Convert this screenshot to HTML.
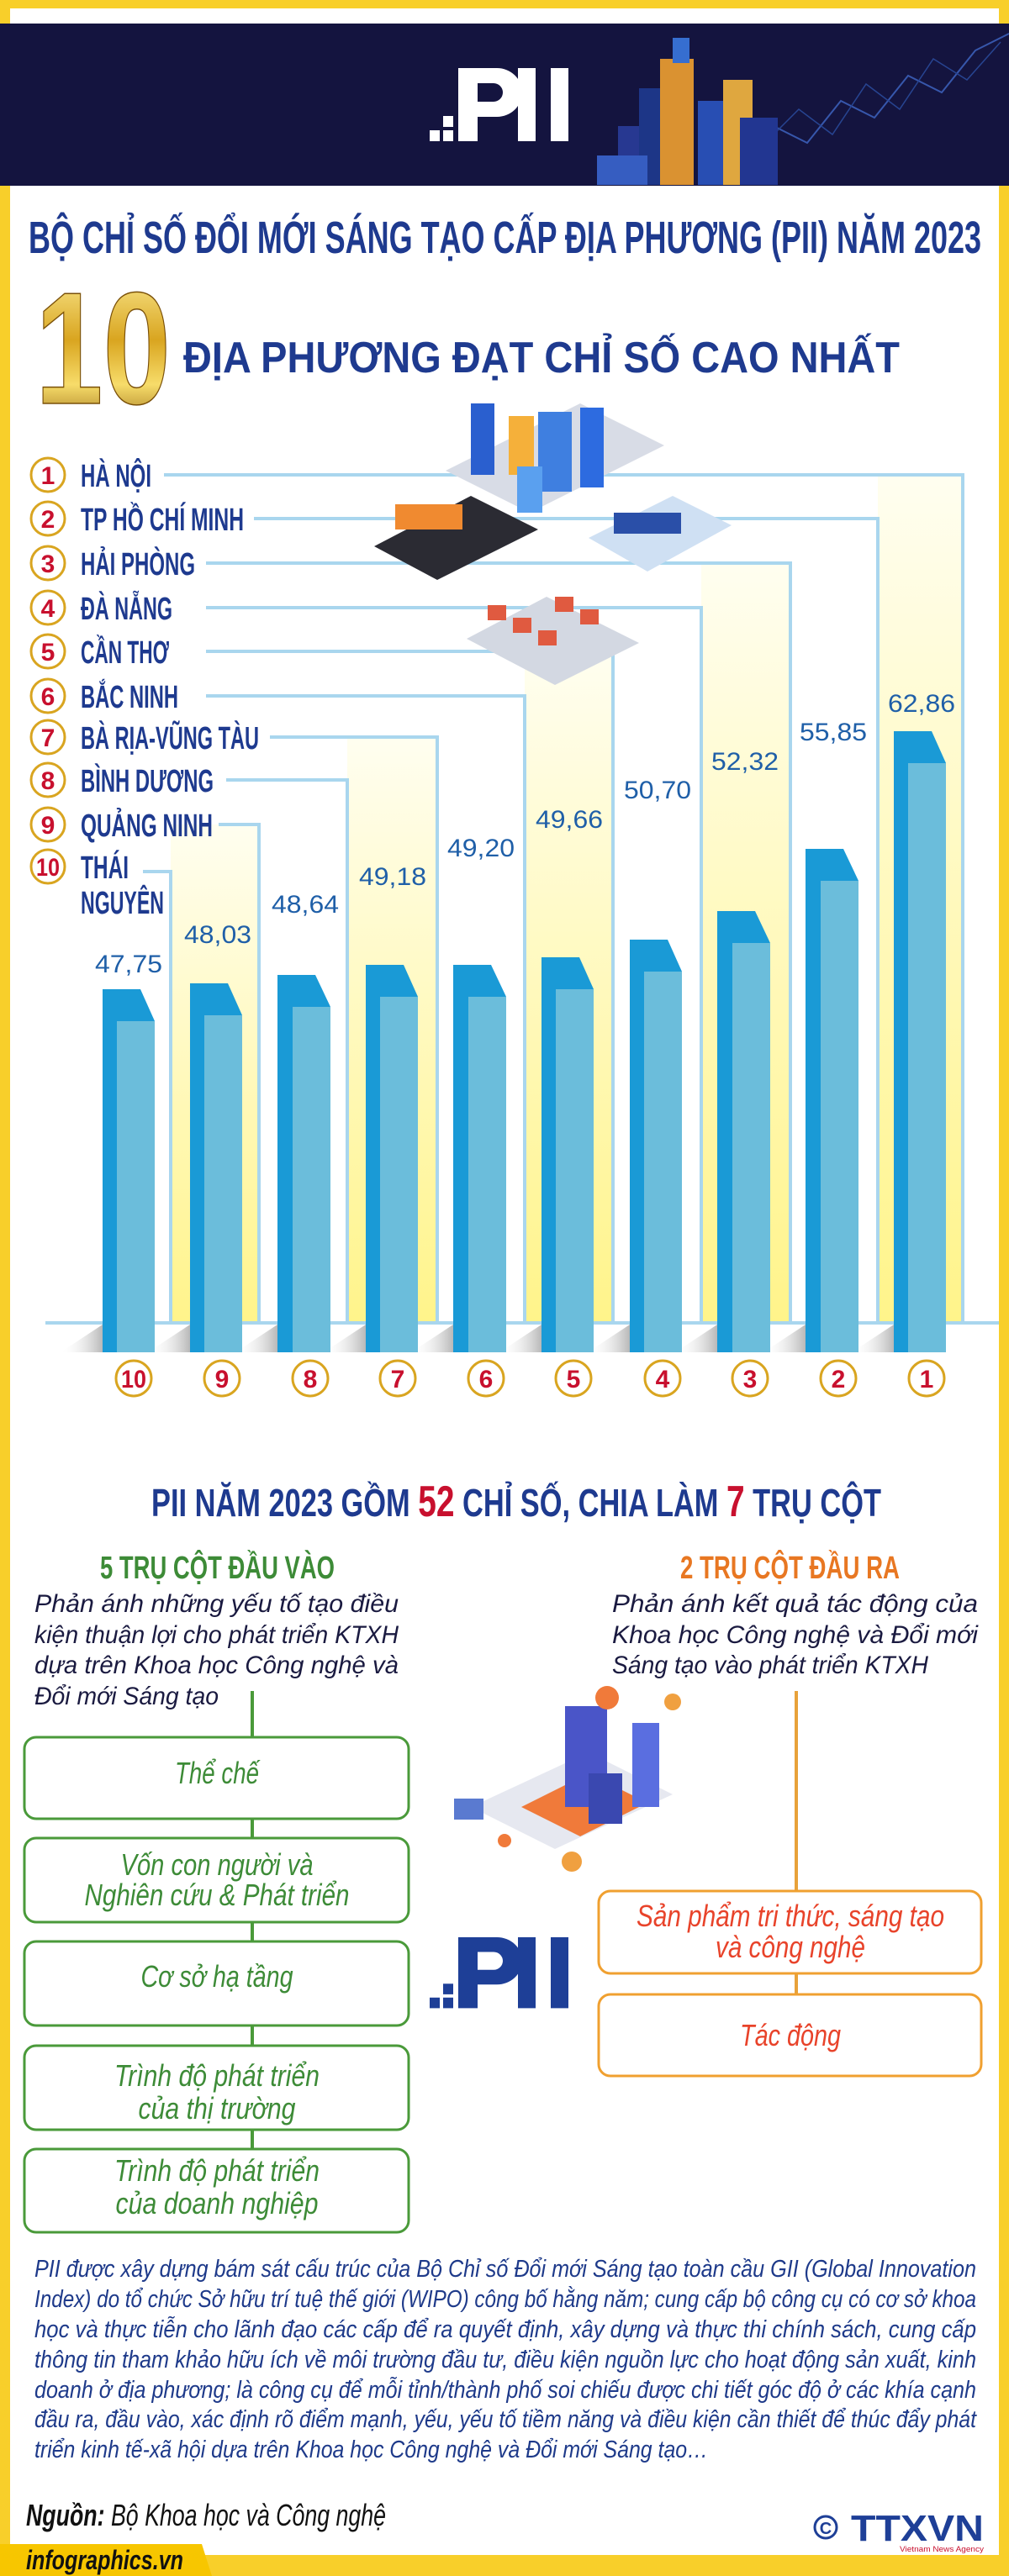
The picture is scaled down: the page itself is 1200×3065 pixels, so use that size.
<!DOCTYPE html>
<html><head><meta charset="utf-8"><style>
html,body{margin:0;padding:0;background:#fff}
svg{display:block}
text{font-family:"Liberation Sans","DejaVu Sans",sans-serif}
</style></head><body>
<svg width="1200" height="3065" viewBox="0 0 1200 3065" xmlns="http://www.w3.org/2000/svg">
<defs>
<linearGradient id="gold" x1="0" y1="0" x2="0" y2="1"><stop offset="0" stop-color="#fff3a0"/><stop offset="0.45" stop-color="#d9a520"/><stop offset="0.7" stop-color="#f7dc6a"/><stop offset="1" stop-color="#8a5a08"/></linearGradient>
<linearGradient id="ys" x1="0" y1="0" x2="0" y2="1"><stop offset="0" stop-color="#fffef0"/><stop offset="1" stop-color="#fff48a"/></linearGradient>
<linearGradient id="sh" x1="0" y1="0" x2="1" y2="0"><stop offset="0" stop-color="#fff" stop-opacity="0"/><stop offset="1" stop-color="#b8b8b8"/></linearGradient>
<g id="pii">
<rect x="0" y="74" width="12" height="13"/><rect x="16" y="57" width="12" height="13"/><rect x="16" y="74" width="12" height="13"/>
<path d="M34 0 H80 A30 29 0 0 1 80 58 H57 V87 H34 Z M57 18 V40 H76 A11 11 0 0 0 76 18 Z" fill-rule="evenodd"/>
<rect x="105" y="0" width="21" height="87"/><rect x="144" y="0" width="21" height="87"/>
</g>
</defs>
<!-- frame -->
<rect x="0" y="0" width="1200" height="3065" fill="#f8cf2a"/>
<rect x="12" y="10" width="1176" height="3030" fill="#fff"/>
<rect x="0" y="28" width="1200" height="193" fill="#14143f"/>
<!-- header illustration -->
<g opacity="0.9">
<polyline points="880,200 920,150 960,170 1000,120 1040,140 1080,90 1120,110 1160,60 1200,40" fill="none" stroke="#3b5fb8" stroke-width="2"/>
<polyline points="900,180 950,130 990,160 1030,100 1070,130 1110,70 1150,95 1190,50" fill="none" stroke="#2a4a9a" stroke-width="1.5"/>
<rect x="735" y="150" width="40" height="70" fill="#2a3c9a"/>
<rect x="760" y="105" width="45" height="115" fill="#1e3a8f"/>
<rect x="785" y="70" width="40" height="150" fill="#f0a030"/>
<rect x="800" y="45" width="20" height="30" fill="#3a78e0"/>
<rect x="830" y="120" width="45" height="100" fill="#2b55c0"/>
<rect x="860" y="95" width="35" height="125" fill="#f5b840"/>
<rect x="880" y="140" width="45" height="80" fill="#243a9a"/>
<rect x="710" y="185" width="60" height="35" fill="#3a66d0"/>
</g>
<g fill="#fff" transform="translate(511,81)"><use href="#pii"/></g>
<!-- titles -->
<text x="34" y="301" font-size="54" font-weight="bold" fill="#1e3a8f" textLength="1133" lengthAdjust="spacingAndGlyphs">BỘ CHỈ SỐ ĐỔI MỚI SÁNG TẠO CẤP ĐỊA PHƯƠNG (PII) NĂM 2023</text>
<text x="42" y="480" font-size="190" font-weight="bold" fill="url(#gold)" stroke="#7a5008" stroke-width="1.5" textLength="161" lengthAdjust="spacingAndGlyphs">10</text>
<text x="218" y="443" font-size="52" font-weight="bold" fill="#1e3a8f" textLength="852" lengthAdjust="spacingAndGlyphs">ĐỊA PHƯƠNG ĐẠT CHỈ SỐ CAO NHẤT</text>
<!-- yellow stripes -->
<rect x="203" y="981" width="105" height="593" fill="url(#ys)"/>
<rect x="413" y="877" width="107" height="697" fill="url(#ys)"/>
<rect x="624" y="775" width="105" height="799" fill="url(#ys)"/>
<rect x="834" y="670" width="106" height="904" fill="url(#ys)"/>
<rect x="1044" y="565" width="101" height="1009" fill="url(#ys)"/>
<!-- leader lines -->
<g fill="none" stroke="#a9d6ee" stroke-width="4">
<polyline points="195,565 1145,565 1145,1574"/>
<polyline points="302,617 1044,617 1044,1574"/>
<polyline points="245,670 940,670 940,1574"/>
<polyline points="245,723 834,723 834,1574"/>
<polyline points="245,775 729,775 729,1574"/>
<polyline points="245,828 624,828 624,1574"/>
<polyline points="321,877 520,877 520,1574"/>
<polyline points="269,928 413,928 413,1574"/>
<polyline points="260,981 308,981 308,1574"/>
<polyline points="170,1037 203,1037 203,1574"/>
<line x1="54" y1="1574" x2="1188" y2="1574"/>
</g>
<!-- city illustration -->
<g>
<polygon points="445,650 560,590 640,630 520,690" fill="#2b2b33"/>
<polygon points="530,560 690,480 790,530 630,610" fill="#d8dce6"/>
<polygon points="700,640 800,590 870,625 770,680" fill="#cfe0f3"/>
<polygon points="555,760 650,710 760,765 660,815" fill="#d3d8e2"/>
<rect x="560" y="480" width="28" height="85" fill="#2a5fcf"/>
<rect x="605" y="495" width="30" height="70" fill="#f5b03a"/>
<rect x="640" y="490" width="40" height="95" fill="#3f7fe0"/>
<rect x="690" y="485" width="28" height="95" fill="#2d6be0"/>
<rect x="615" y="555" width="30" height="55" fill="#5aa0ef"/>
<rect x="470" y="600" width="80" height="30" fill="#f08a30"/>
<rect x="730" y="610" width="80" height="25" fill="#2a4fa8"/>
<g fill="#e05a40"><rect x="580" y="720" width="22" height="18"/><rect x="610" y="735" width="22" height="18"/><rect x="640" y="750" width="22" height="18"/><rect x="660" y="710" width="22" height="18"/><rect x="690" y="725" width="22" height="18"/></g>
</g>
<!-- list -->
<g fill="#fff" stroke="#d9a520" stroke-width="3">
<circle cx="57" cy="565" r="20"/><circle cx="57" cy="617" r="20"/><circle cx="57" cy="670" r="20"/><circle cx="57" cy="723" r="20"/><circle cx="57" cy="775" r="20"/><circle cx="57" cy="828" r="20"/><circle cx="57" cy="877" r="20"/><circle cx="57" cy="928" r="20"/><circle cx="57" cy="981" r="20"/><circle cx="57" cy="1031" r="20"/>
</g>
<g fill="#c8102e" font-size="30" font-weight="bold" text-anchor="middle">
<text x="57" y="576">1</text><text x="57" y="628">2</text><text x="57" y="681">3</text><text x="57" y="734">4</text><text x="57" y="786">5</text><text x="57" y="839">6</text><text x="57" y="888">7</text><text x="57" y="939">8</text><text x="57" y="992">9</text><text x="57" y="1042" textLength="28" lengthAdjust="spacingAndGlyphs">10</text>
</g>
<g fill="#1e3a8f" font-size="38" font-weight="bold">
<text x="96" y="579" textLength="84" lengthAdjust="spacingAndGlyphs">HÀ NỘI</text>
<text x="96" y="631" textLength="194" lengthAdjust="spacingAndGlyphs">TP HỒ CHÍ MINH</text>
<text x="96" y="684" textLength="136" lengthAdjust="spacingAndGlyphs">HẢI PHÒNG</text>
<text x="96" y="737" textLength="109" lengthAdjust="spacingAndGlyphs">ĐÀ NẴNG</text>
<text x="96" y="789" textLength="105" lengthAdjust="spacingAndGlyphs">CẦN THƠ</text>
<text x="96" y="842" textLength="116" lengthAdjust="spacingAndGlyphs">BẮC NINH</text>
<text x="96" y="891" textLength="212" lengthAdjust="spacingAndGlyphs">BÀ RỊA-VŨNG TÀU</text>
<text x="96" y="942" textLength="158" lengthAdjust="spacingAndGlyphs">BÌNH DƯƠNG</text>
<text x="96" y="995" textLength="157" lengthAdjust="spacingAndGlyphs">QUẢNG NINH</text>
<text x="96" y="1045" textLength="57" lengthAdjust="spacingAndGlyphs">THÁI</text>
<text x="96" y="1087" textLength="99" lengthAdjust="spacingAndGlyphs">NGUYÊN</text>
</g>
<!-- values -->
<g fill="#1f5fa8" font-size="30" text-anchor="middle">
<text x="1096" y="847" textLength="80" lengthAdjust="spacingAndGlyphs">62,86</text>
<text x="991" y="881" textLength="80" lengthAdjust="spacingAndGlyphs">55,85</text>
<text x="886" y="916" textLength="80" lengthAdjust="spacingAndGlyphs">52,32</text>
<text x="782" y="950" textLength="80" lengthAdjust="spacingAndGlyphs">50,70</text>
<text x="677" y="985" textLength="80" lengthAdjust="spacingAndGlyphs">49,66</text>
<text x="572" y="1019" textLength="80" lengthAdjust="spacingAndGlyphs">49,20</text>
<text x="467" y="1053" textLength="80" lengthAdjust="spacingAndGlyphs">49,18</text>
<text x="363" y="1086" textLength="80" lengthAdjust="spacingAndGlyphs">48,64</text>
<text x="259" y="1122" textLength="80" lengthAdjust="spacingAndGlyphs">48,03</text>
<text x="153" y="1157" textLength="80" lengthAdjust="spacingAndGlyphs">47,75</text>
</g>
<!-- bars -->
<g id="bars">
<polygon points="1013,1609 1063,1576 1063,1609" fill="url(#sh)"/>
<polygon points="908,1609 958,1576 958,1609" fill="url(#sh)"/>
<polygon points="803,1609 853,1576 853,1609" fill="url(#sh)"/>
<polygon points="699,1609 749,1576 749,1609" fill="url(#sh)"/>
<polygon points="594,1609 644,1576 644,1609" fill="url(#sh)"/>
<polygon points="489,1609 539,1576 539,1609" fill="url(#sh)"/>
<polygon points="385,1609 435,1576 435,1609" fill="url(#sh)"/>
<polygon points="280,1609 330,1576 330,1609" fill="url(#sh)"/>
<polygon points="176,1609 226,1576 226,1609" fill="url(#sh)"/>
<polygon points="72,1609 122,1576 122,1609" fill="url(#sh)"/>
</g>
<g>
<polygon points="1063,870 1108,870 1125,908 1125,1609 1063,1609" fill="#1a9ad6"/><rect x="1080" y="908" width="45" height="701" fill="#6bbddb"/>
<polygon points="958,1010 1003,1010 1021,1048 1021,1609 958,1609" fill="#1a9ad6"/><rect x="976" y="1048" width="45" height="561" fill="#6bbddb"/>
<polygon points="853,1084 898,1084 916,1122 916,1609 853,1609" fill="#1a9ad6"/><rect x="871" y="1122" width="45" height="487" fill="#6bbddb"/>
<polygon points="749,1118 794,1118 811,1156 811,1609 749,1609" fill="#1a9ad6"/><rect x="766" y="1156" width="45" height="453" fill="#6bbddb"/>
<polygon points="644,1139 689,1139 706,1177 706,1609 644,1609" fill="#1a9ad6"/><rect x="661" y="1177" width="45" height="432" fill="#6bbddb"/>
<polygon points="539,1148 584,1148 602,1186 602,1609 539,1609" fill="#1a9ad6"/><rect x="557" y="1186" width="45" height="423" fill="#6bbddb"/>
<polygon points="435,1148 480,1148 497,1186 497,1609 435,1609" fill="#1a9ad6"/><rect x="452" y="1186" width="45" height="423" fill="#6bbddb"/>
<polygon points="330,1160 375,1160 393,1198 393,1609 330,1609" fill="#1a9ad6"/><rect x="348" y="1198" width="45" height="411" fill="#6bbddb"/>
<polygon points="226,1170 271,1170 288,1208 288,1609 226,1609" fill="#1a9ad6"/><rect x="243" y="1208" width="45" height="401" fill="#6bbddb"/>
<polygon points="122,1177 167,1177 184,1215 184,1609 122,1609" fill="#1a9ad6"/><rect x="139" y="1215" width="45" height="394" fill="#6bbddb"/>
</g>
<!-- bottom rank circles -->
<g fill="#fff" stroke="#d9a520" stroke-width="3">
<circle cx="159" cy="1640" r="21"/><circle cx="264" cy="1640" r="21"/><circle cx="369" cy="1640" r="21"/><circle cx="473" cy="1640" r="21"/><circle cx="578" cy="1640" r="21"/><circle cx="682" cy="1640" r="21"/><circle cx="788" cy="1640" r="21"/><circle cx="892" cy="1640" r="21"/><circle cx="997" cy="1640" r="21"/><circle cx="1102" cy="1640" r="21"/>
</g>
<g fill="#c8102e" font-size="30" font-weight="bold" text-anchor="middle">
<text x="159" y="1651" textLength="30" lengthAdjust="spacingAndGlyphs">10</text><text x="264" y="1651">9</text><text x="369" y="1651">8</text><text x="473" y="1651">7</text><text x="578" y="1651">6</text><text x="682" y="1651">5</text><text x="788" y="1651">4</text><text x="892" y="1651">3</text><text x="997" y="1651">2</text><text x="1102" y="1651">1</text>
</g>
<!-- section 2 -->
<text x="180" y="1804" font-size="46" font-weight="bold" fill="#1e3a8f" textLength="868" lengthAdjust="spacingAndGlyphs">PII NĂM 2023 GỒM <tspan fill="#c8102e" font-size="52">52</tspan> CHỈ SỐ, CHIA LÀM <tspan fill="#c8102e" font-size="52">7</tspan> TRỤ CỘT</text>
<text x="119" y="1878" font-size="38" font-weight="bold" fill="#3d8b37" textLength="279" lengthAdjust="spacingAndGlyphs">5 TRỤ CỘT ĐẦU VÀO</text>
<text x="809" y="1878" font-size="38" font-weight="bold" fill="#e87722" textLength="261" lengthAdjust="spacingAndGlyphs">2 TRỤ CỘT ĐẦU RA</text>
<g font-size="30" font-style="italic" fill="#1a1a40">
<text x="41" y="1918" textLength="433" lengthAdjust="spacingAndGlyphs">Phản ánh những yếu tố tạo điều</text>
<text x="41" y="1955" textLength="433" lengthAdjust="spacingAndGlyphs">kiện thuận lợi cho phát triển KTXH</text>
<text x="41" y="1991" textLength="433" lengthAdjust="spacingAndGlyphs">dựa trên Khoa học Công nghệ và</text>
<text x="41" y="2028" textLength="219" lengthAdjust="spacingAndGlyphs">Đổi mới Sáng tạo</text>
<text x="728" y="1918" textLength="435" lengthAdjust="spacingAndGlyphs">Phản ánh kết quả tác động của</text>
<text x="728" y="1955" textLength="435" lengthAdjust="spacingAndGlyphs">Khoa học Công nghệ và Đổi mới</text>
<text x="728" y="1991" textLength="376" lengthAdjust="spacingAndGlyphs">Sáng tạo vào phát triển KTXH</text>
</g>
<line x1="300" y1="2012" x2="300" y2="2557" stroke="#4a9a3a" stroke-width="4"/>
<line x1="947" y1="2012" x2="947" y2="2373" stroke="#e8a23a" stroke-width="4"/>
<g fill="#fff" stroke="#4a9a3a" stroke-width="3">
<rect x="29" y="2067" width="457" height="97" rx="14"/>
<rect x="29" y="2187" width="457" height="100" rx="14"/>
<rect x="29" y="2310" width="457" height="100" rx="14"/>
<rect x="29" y="2434" width="457" height="100" rx="14"/>
<rect x="29" y="2557" width="457" height="99" rx="14"/>
</g>
<g fill="#fff" stroke="#f0a030" stroke-width="3">
<rect x="712" y="2250" width="455" height="98" rx="14"/>
<rect x="712" y="2373" width="455" height="97" rx="14"/>
</g>
<g font-size="36" font-style="italic" fill="#3d8b37" text-anchor="middle">
<text x="258" y="2122" textLength="100" lengthAdjust="spacingAndGlyphs">Thể chế</text>
<text x="258" y="2231" textLength="229" lengthAdjust="spacingAndGlyphs">Vốn con người và</text>
<text x="258" y="2267" textLength="315" lengthAdjust="spacingAndGlyphs">Nghiên cứu &amp; Phát triển</text>
<text x="258" y="2364" textLength="181" lengthAdjust="spacingAndGlyphs">Cơ sở hạ tầng</text>
<text x="258" y="2482" textLength="244" lengthAdjust="spacingAndGlyphs">Trình độ phát triển</text>
<text x="258" y="2521" textLength="187" lengthAdjust="spacingAndGlyphs">của thị trường</text>
<text x="258" y="2595" textLength="244" lengthAdjust="spacingAndGlyphs">Trình độ phát triển</text>
<text x="258" y="2634" textLength="241" lengthAdjust="spacingAndGlyphs">của doanh nghiệp</text>
</g>
<g font-size="36" font-style="italic" fill="#e8432a" text-anchor="middle">
<text x="940" y="2292" textLength="366" lengthAdjust="spacingAndGlyphs">Sản phẩm tri thức, sáng tạo</text>
<text x="940" y="2329" textLength="178" lengthAdjust="spacingAndGlyphs">và công nghệ</text>
<text x="940" y="2434" textLength="120" lengthAdjust="spacingAndGlyphs">Tác động</text>
</g>
<!-- middle illustration -->
<g>
<polygon points="560,2150 700,2085 800,2135 660,2200" fill="#e6e8f0"/>
<polygon points="620,2150 700,2110 770,2145 690,2185" fill="#f07a3a"/>
<rect x="672" y="2030" width="50" height="120" fill="#4a55c8"/>
<rect x="752" y="2050" width="32" height="100" fill="#5a6ee0"/>
<rect x="700" y="2110" width="40" height="60" fill="#3a48b0"/>
<rect x="540" y="2140" width="35" height="25" fill="#5a7ad0"/>
<circle cx="722" cy="2020" r="14" fill="#f07a3a"/>
<circle cx="800" cy="2025" r="10" fill="#f0a040"/>
<circle cx="600" cy="2190" r="8" fill="#f07a3a"/>
<circle cx="680" cy="2215" r="12" fill="#f0a040"/>
</g>
<g fill="#1e3f97" transform="translate(511,2305) scale(1,0.97)"><use href="#pii"/></g>
<!-- body paragraph -->
<g font-size="29" font-style="italic" fill="#1e3a8a">
<text x="41" y="2709" textLength="1120" lengthAdjust="spacingAndGlyphs">PII được xây dựng bám sát cấu trúc của Bộ Chỉ số Đổi mới Sáng tạo toàn cầu GII (Global Innovation</text>
<text x="41" y="2745" textLength="1120" lengthAdjust="spacingAndGlyphs">Index) do tổ chức Sở hữu trí tuệ thế giới (WIPO) công bố hằng năm; cung cấp bộ công cụ có cơ sở khoa</text>
<text x="41" y="2781" textLength="1120" lengthAdjust="spacingAndGlyphs">học và thực tiễn cho lãnh đạo các cấp để ra quyết định, xây dựng và thực thi chính sách, cung cấp</text>
<text x="41" y="2817" textLength="1120" lengthAdjust="spacingAndGlyphs">thông tin tham khảo hữu ích về môi trường đầu tư, điều kiện nguồn lực cho hoạt động sản xuất, kinh</text>
<text x="41" y="2853" textLength="1120" lengthAdjust="spacingAndGlyphs">doanh ở địa phương; là công cụ để mỗi tỉnh/thành phố soi chiếu được chi tiết góc độ ở các khía cạnh</text>
<text x="41" y="2888" textLength="1120" lengthAdjust="spacingAndGlyphs">đầu ra, đầu vào, xác định rõ điểm mạnh, yếu, yếu tố tiềm năng và điều kiện cần thiết để thúc đẩy phát</text>
<text x="41" y="2924" textLength="801" lengthAdjust="spacingAndGlyphs">triển kinh tế-xã hội dựa trên Khoa học Công nghệ và Đổi mới Sáng tạo…</text>
</g>
<text x="31" y="3005" font-size="36" font-style="italic" fill="#111" textLength="428" lengthAdjust="spacingAndGlyphs"><tspan font-weight="bold">Nguồn:</tspan> Bộ Khoa học và Công nghệ</text>
<!-- footer -->
<rect x="0" y="3040" width="1200" height="25" fill="#f8cf2a"/>
<polygon points="0,3027 240,3027 252,3065 0,3065" fill="#f7c600"/>
<text x="31" y="3057" font-size="32" font-weight="bold" font-style="italic" fill="#111" textLength="187" lengthAdjust="spacingAndGlyphs">infographics.vn</text>
<circle cx="982" cy="3007" r="13" fill="none" stroke="#1e3f97" stroke-width="3"/>
<text x="982" y="3015" font-size="20" font-weight="bold" fill="#1e3f97" text-anchor="middle">C</text>
<text x="1012" y="3023" font-size="44" font-weight="bold" fill="#1e3f97" textLength="158" lengthAdjust="spacingAndGlyphs">TTXVN</text>
<text x="1070" y="3036" font-size="9" fill="#c8102e" textLength="100" lengthAdjust="spacingAndGlyphs">Vietnam News Agency</text>
</svg>
</body></html>
